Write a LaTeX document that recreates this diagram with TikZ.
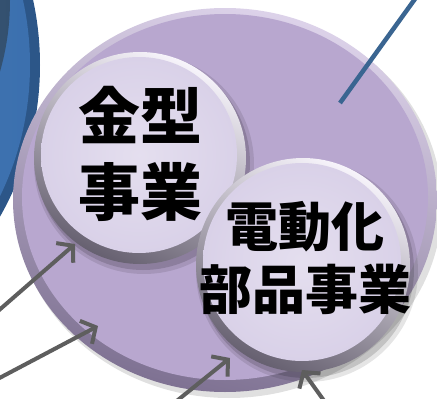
\documentclass[tikz,border=0pt]{standalone}
\usepackage{fontspec}
\newfontfamily\jp{Noto Sans CJK JP}
\usetikzlibrary{arrows.meta,shapes.geometric}
\definecolor{bigface}{HTML}{B8A7CF}
\definecolor{bigrimlight}{HTML}{DDD3EA}
\definecolor{bigrimdark}{HTML}{7E7192}
\definecolor{smallface}{HTML}{D9D1E8}
\definecolor{smallrimlight}{HTML}{F7F4FB}
\definecolor{smallrimdark}{HTML}{666070}
\definecolor{bluelight}{HTML}{4C86CC}
\definecolor{bluemain}{HTML}{3C70AE}
\definecolor{bluedark}{HTML}{2C5688}
\definecolor{greyblueL}{HTML}{71849B}
\definecolor{greyblueD}{HTML}{33506F}
\definecolor{linkblue}{HTML}{3A6591}
\definecolor{arrowgrey}{HTML}{5E5E5E}
\tikzset{
  pointer/.style={draw=arrowgrey, line width=4pt,
    -{Straight Barb[length=11pt,width=26pt,line width=4pt]}},
  linkline/.style={draw=linkblue, line width=4.5pt},
  label1/.style={align=center, text=black, inner sep=0pt,
    font=\jp\bfseries\fontsize{62}{76}\selectfont},
  label2/.style={align=center, text=black, inner sep=0pt,
    font=\jp\bfseries\fontsize{53}{63}\selectfont},
  disc/.style={circle, inner sep=0pt, minimum size=212pt}
}
\begin{document}
\begin{tikzpicture}[x=1pt,y=-1pt]
\useasboundingbox (0,0) rectangle (437,399);
\clip (0,0) rectangle (437,399);
% blue partial disc at left
\fill[bluedark] (-267,65) circle (307);
\shade[left color=bluelight, right color=bluemain] (-271,65) circle (301);
\shade[left color=greyblueL, right color=greyblueD] (-250,0) circle (260);
\node[circle, inner sep=0pt, minimum size=614pt] (blue) at (-267,65) {};
% big disc
\fill[black, opacity=0.12] (229,205) ellipse [x radius=213, y radius=193];
\shade[top color=bigrimlight, bottom color=bigrimdark, shading angle=-15]
  (225,200) ellipse [x radius=212, y radius=192];
\fill[bigface] (225,197) ellipse [x radius=203, y radius=183];
\node[ellipse, minimum width=424pt, minimum height=384pt] (big) at (225,200) {};
% disc 1
\fill[black, opacity=0.10] (144,164) circle (110);
\fill[black, opacity=0.15] (143,163) circle (107);
\shade[top color=smallrimlight, bottom color=smallrimdark, shading angle=-25] (140,158) circle (106);
\shade[inner color=smallface!70!white, outer color=smallface] (139,155) circle (98);
\node[disc] (k1) at (140,158) {};
% disc 2
\fill[black, opacity=0.10] (307,271) circle (111);
\fill[black, opacity=0.15] (306,270) circle (108);
\shade[top color=smallrimlight, bottom color=smallrimdark, shading angle=-25] (303,265) circle (107);
\shade[inner color=smallface!70!white, outer color=smallface] (302,262) circle (99);
\node[disc, minimum size=214pt] (k2) at (303,265) {};
% labels
\node[label1] (t1) at (140,154) {金型\\事業};
\node[label2] (t2) at (305,258) {電動化\\部品事業};
% connectors
\coordinate (lineA) at (340,103);
\coordinate (lineB) at (420,-8);
\draw[linkline] (lineA) -- (lineB);
\coordinate (a1s) at (-10,318);
\coordinate (a1e) at (75,244);
\coordinate (a2s) at (-10,383);
\coordinate (a2e) at (98,326);
\coordinate (a3s) at (168,408);
\coordinate (a3e) at (230,358);
\coordinate (a4s) at (330,409);
\coordinate (a4e) at (302,370);
\draw[pointer] (a1s) -- (a1e);
\draw[pointer] (a2s) -- (a2e);
\draw[pointer] (a3s) -- (a3e);
\draw[pointer] (a4s) -- (a4e);
\end{tikzpicture}
\end{document}
